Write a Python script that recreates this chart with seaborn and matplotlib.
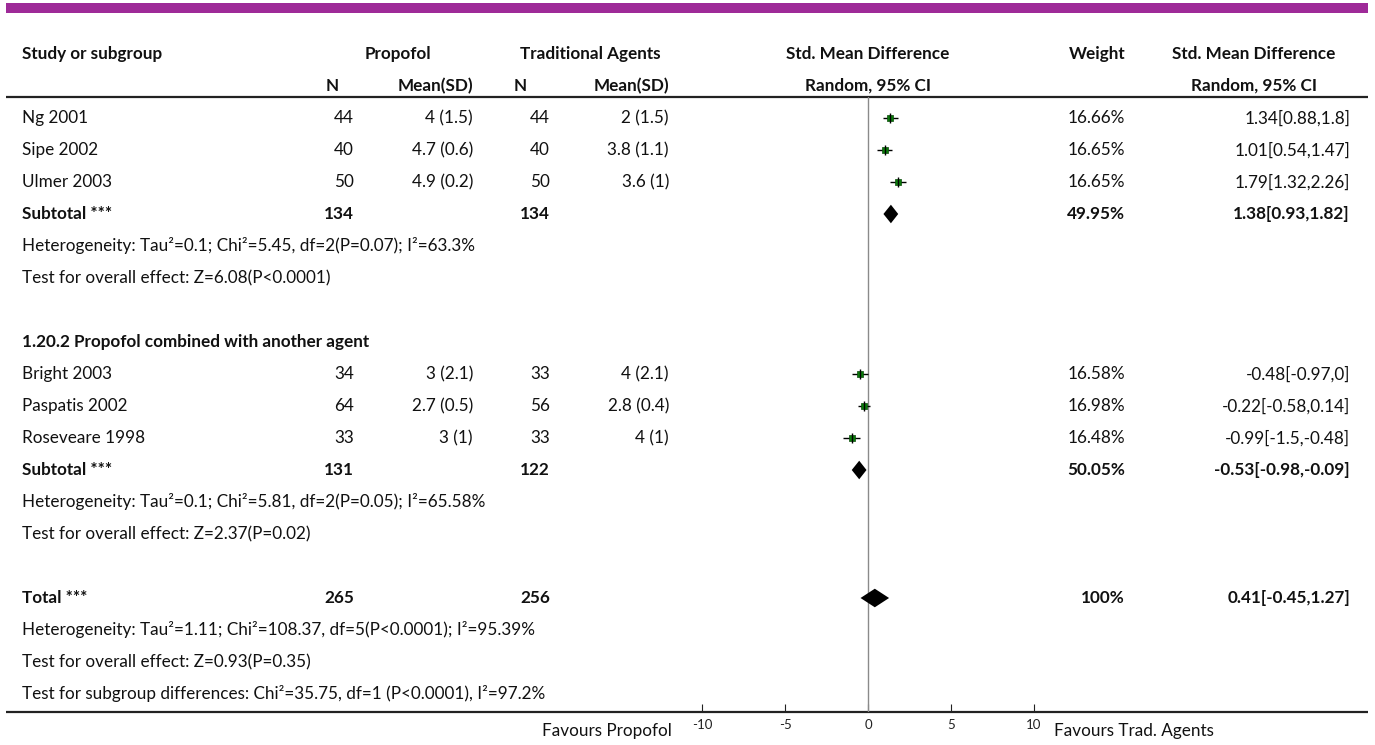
import matplotlib
matplotlib.use("Agg")
import matplotlib.pyplot as plt
import seaborn as sns
import pandas as pd

# ---- study-level data ----
studies = ["Ng 2001", "Sipe 2002", "Ulmer 2003", "Bright 2003", "Paspatis 2002", "Roseveare 1998"]
n_prop = [44, 40, 50, 34, 64, 33]
mean_prop = [4, 4.7, 4.9, 3, 2.7, 3]
sd_prop = [1.5, 0.6, 0.2, 2.1, 0.5, 1]
n_trad = [44, 40, 50, 33, 56, 33]
mean_trad = [2, 3.8, 3.6, 4, 2.8, 4]
sd_trad = [1.5, 1.1, 1, 2.1, 0.4, 1]
smd = [1.34, 1.01, 1.79, -0.48, -0.22, -0.99]
ci_low = [0.88, 0.54, 1.32, -0.97, -0.58, -1.5]
ci_high = [1.8, 1.47, 2.26, 0, 0.14, -0.48]
weight = [16.66, 16.65, 16.65, 16.58, 16.98, 16.48]

# ---- pooled estimates (subgroup 1, subgroup 2, overall) ----
pool_labels = ["Subtotal ***", "Subtotal ***", "Total ***"]
pool_n_prop = [134, 131, 265]
pool_n_trad = [134, 122, 256]
pool_weight = ["49.95%", "50.05%", "100%"]
pool_smd = [1.38, -0.53, 0.41]
pool_low = [0.93, -0.98, -0.45]
pool_high = [1.82, -0.09, 1.27]

het_texts = [
    "Heterogeneity: Tau\u00b2=0.1; Chi\u00b2=5.45, df=2(P=0.07); I\u00b2=63.3%",
    "Heterogeneity: Tau\u00b2=0.1; Chi\u00b2=5.81, df=2(P=0.05); I\u00b2=65.58%",
    "Heterogeneity: Tau\u00b2=1.11; Chi\u00b2=108.37, df=5(P<0.0001); I\u00b2=95.39%",
]
effect_texts = [
    "Test for overall effect: Z=6.08(P<0.0001)",
    "Test for overall effect: Z=2.37(P=0.02)",
    "Test for overall effect: Z=0.93(P=0.35)",
]
subgroup_test = "Test for subgroup differences: Chi\u00b2=35.75, df=1 (P<0.0001), I\u00b2=97.2%"
group2_title = "1.20.2 Propofol combined with another agent"
axis_ticks = [-10, -5, 0, 5, 10]

# ---- styling ----
sns.set_theme(style="white")
plt.rcParams["font.family"] = ["Lato", "DejaVu Sans"]
FS = 12.3
W, H = 1375, 745

fig = plt.figure(figsize=(W / 100, H / 100), dpi=100)
fig.patch.set_facecolor("white")

# text layer in pixel coordinates
ax_t = fig.add_axes([0, 0, 1, 1])
ax_t.set_xlim(0, W)
ax_t.set_ylim(H, 0)
ax_t.axis("off")

ROW0, DY = 118, 32
def ry(i):
    return ROW0 + DY * i

# top band
ax_t.fill_between([6, 1368], 3, 13, color="#9e2a98", lw=0)

# column anchors
X_STUDY, X_N1, X_M1, X_N2, X_M2, X_W, X_CI = 22, 354, 473, 550, 669, 1125, 1350
C_PLOT, C_RIGHT = 868, 1254

def txt(x, y, s, ha="left", bold=False, size=FS):
    ax_t.text(x, y, s, ha=ha, va="center", fontsize=size,
              fontweight="bold" if bold else "normal", color="#111111")

# headers
hy1, hy2 = 54, 86
txt(X_STUDY, hy1, "Study or subgroup", bold=True)
txt(398, hy1, "Propofol", ha="center", bold=True)
txt(590, hy1, "Traditional Agents", ha="center", bold=True)
txt(C_PLOT, hy1, "Std. Mean Difference", ha="center", bold=True)
txt(X_W, hy1, "Weight", ha="right", bold=True)
txt(C_RIGHT, hy1, "Std. Mean Difference", ha="center", bold=True)
txt(332, hy2, "N", ha="center", bold=True)
txt(X_M1, hy2, "Mean(SD)", ha="right", bold=True)
txt(520, hy2, "N", ha="center", bold=True)
txt(X_M2, hy2, "Mean(SD)", ha="right", bold=True)
txt(C_PLOT, hy2, "Random, 95% CI", ha="center", bold=True)
txt(C_RIGHT, hy2, "Random, 95% CI", ha="center", bold=True)
ax_t.plot([6, 1368], [97, 97], color="#222222", lw=1.6, solid_capstyle="butt")

# row layout
study_rows = [0, 1, 2, 8, 9, 10]
pool_rows = [3, 11, 15]
het_rows = [4, 12, 16]
eff_rows = [5, 13, 17]
title_row = 7
subtest_row = 18

def fmt(v):
    return f"{v:g}"

for i, r in enumerate(study_rows):
    y = ry(r)
    txt(X_STUDY, y, studies[i])
    txt(X_N1, y, str(n_prop[i]), ha="right")
    txt(X_M1, y, f"{fmt(mean_prop[i])} ({fmt(sd_prop[i])})", ha="right")
    txt(X_N2, y, str(n_trad[i]), ha="right")
    txt(X_M2, y, f"{fmt(mean_trad[i])} ({fmt(sd_trad[i])})", ha="right")
    txt(X_W, y, f"{weight[i]:.2f}%", ha="right")
    txt(X_CI, y, f"{fmt(smd[i])}[{fmt(ci_low[i])},{fmt(ci_high[i])}]", ha="right")

for k, r in enumerate(pool_rows):
    y = ry(r)
    txt(X_STUDY, y, pool_labels[k], bold=True)
    txt(X_N1, y, str(pool_n_prop[k]), ha="right", bold=True)
    txt(X_N2, y, str(pool_n_trad[k]), ha="right", bold=True)
    txt(X_W, y, pool_weight[k], ha="right", bold=True)
    txt(X_CI, y, f"{fmt(pool_smd[k])}[{fmt(pool_low[k])},{fmt(pool_high[k])}]",
        ha="right", bold=True)
    txt(X_STUDY, ry(het_rows[k]), het_texts[k])
    txt(X_STUDY, ry(eff_rows[k]), effect_texts[k])

txt(X_STUDY, ry(title_row), group2_title, bold=True)
txt(X_STUDY, ry(subtest_row), subgroup_test)

# bottom axis rule and side labels
AX_Y = 712
ax_t.plot([6, 1368], [AX_Y, AX_Y], color="#222222", lw=1.6, solid_capstyle="butt")
txt(672, 731, "Favours Propofol", ha="right")
txt(1054, 731, "Favours Trad. Agents", ha="left")

# ---- forest panel in effect-size units ----
px_left, px_right, px_top = 702, 1034, 97
ax_f = fig.add_axes([px_left / W, 1 - AX_Y / H, (px_right - px_left) / W, (AX_Y - px_top) / H])
ax_f.patch.set_alpha(0)
ax_f.set_xlim(axis_ticks[0], axis_ticks[-1])
ax_f.set_ylim((AX_Y - ROW0) / DY, (px_top - ROW0) / DY)
for s in ax_f.spines.values():
    s.set_visible(False)
ax_f.set_yticks([])
ax_f.set_xticks(axis_ticks)
ax_f.set_xticklabels([str(t) for t in axis_ticks], fontsize=9.5)
ax_f.tick_params(axis="x", direction="in", length=6, width=0.8, color="#222222",
                 pad=5, bottom=True, labelcolor="#222222")

ax_f.axvline(0, color="#8a8a8a", lw=1.0, zorder=1)

df = pd.DataFrame({"smd": smd, "row": study_rows, "lo": ci_low, "hi": ci_high})
ax_f.hlines(df["row"], df["lo"], df["hi"], color="black", lw=1.0, zorder=2)
sns.scatterplot(data=df, x="smd", y="row", marker="s", s=24, color="#0a7a0a",
                edgecolor="#0b4d0b", linewidth=0.5, ax=ax_f, zorder=3, legend=False)
ax_f.scatter(df["smd"], df["row"], marker="|", s=60, color="black", lw=1.0, zorder=4)

HALF = 0.29
for k, r in enumerate(pool_rows):
    xs = [pool_low[k], pool_smd[k], pool_high[k], pool_smd[k]]
    ys = [r, r - HALF, r, r + HALF]
    ax_f.fill(xs, ys, color="black", lw=0, zorder=3)

ax_f.set_xlabel("")
ax_f.set_ylabel("")

fig.savefig("out.png", dpi=100, facecolor="white")
